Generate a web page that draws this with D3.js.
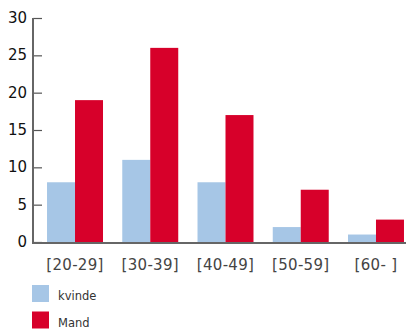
<!DOCTYPE html>
<html>
<head>
<meta charset="utf-8">
<script src="https://cdn.jsdelivr.net/npm/d3@7"></script>
<style>
  body { margin: 0; background: #fff; }
  svg { display: block; font-family: "DejaVu Sans", sans-serif; }
</style>
</head>
<body>
<svg class="plot" width="407" height="329"></svg>
<script>
const ageGroups = ['[20-29]', '[30-39]', '[40-49]', '[50-59]', '[60- ]'];
const kvinde = [8, 11, 8, 2, 1];
const mand = [19, 26, 17, 7, 3];
const yTicks = [0, 5, 10, 15, 20, 25, 30];
const seriesNames = ['kvinde', 'Mand'];
const colors = ['#a6c6e6', '#d7002a'];

const plot = d3.select('.plot');

const xS = d3.scaleBand().domain(ageGroups)
  .range([39.5, 411.5]).paddingInner(0.256).paddingOuter(0.1);
const xSub = d3.scaleBand().domain(seriesNames).range([0, xS.bandwidth()]);
const yS = d3.scaleLinear().domain([0, 30]).range([242, 18]);

const rows = ageGroups.map((g, i) => ({group: g, values: [kvinde[i], mand[i]]}));

// bars
plot.append('g').selectAll('g').data(rows)
  .join('g')
  .attr('transform', d => `translate(${xS(d.group)},0)`)
  .selectAll('rect')
  .data(d => d.values.map((v, j) => ({name: seriesNames[j], v, j})))
  .join('rect')
  .attr('x', d => xSub(d.name))
  .attr('width', xSub.bandwidth())
  .attr('y', d => yS(d.v))
  .attr('height', d => yS(0) - yS(d.v))
  .attr('fill', d => colors[d.j]);

// y axis, ticks pointing inward
const yAxis = plot.append('g').attr('transform', 'translate(33,0)')
  .call(d3.axisRight(yS).tickValues(yTicks).tickSize(9).tickFormat(''));
yAxis.select('.domain').remove();
yAxis.selectAll('line').attr('stroke', '#555').attr('stroke-width', 1.2);

plot.append('line')
  .attr('x1', 33).attr('x2', 33).attr('y1', yS(30)).attr('y2', yS(0) + 1)
  .attr('stroke', '#666').attr('stroke-width', 2);
plot.append('line')
  .attr('x1', 32).attr('x2', 406).attr('y1', yS(0) + 1).attr('y2', yS(0) + 1)
  .attr('stroke', '#666').attr('stroke-width', 2);

plot.append('g').selectAll('text').data(yTicks)
  .join('text')
  .attr('x', 27)
  .attr('y', d => yS(d) + 5)
  .attr('text-anchor', 'end')
  .attr('font-size', 15)
  .attr('fill', '#111')
  .text(d => d);

// x labels
plot.append('g').selectAll('text').data(ageGroups)
  .join('text')
  .attr('x', d => xS(d) + xS.bandwidth() / 2)
  .attr('y', 270)
  .attr('text-anchor', 'middle')
  .attr('font-size', 15)
  .attr('letter-spacing', 0.3)
  .attr('fill', '#444')
  .text(d => d);

// legend
const leg = plot.append('g').selectAll('g').data(seriesNames)
  .join('g')
  .attr('transform', (d, i) => `translate(32,${285 + i * 26.5})`);
leg.append('rect').attr('width', 17).attr('height', 17)
  .attr('fill', (d, i) => colors[i]);
leg.append('text').attr('x', 26).attr('y', 15)
  .attr('font-size', 11.5).attr('fill', '#333')
  .text(d => d);
</script>
</body>
</html>
